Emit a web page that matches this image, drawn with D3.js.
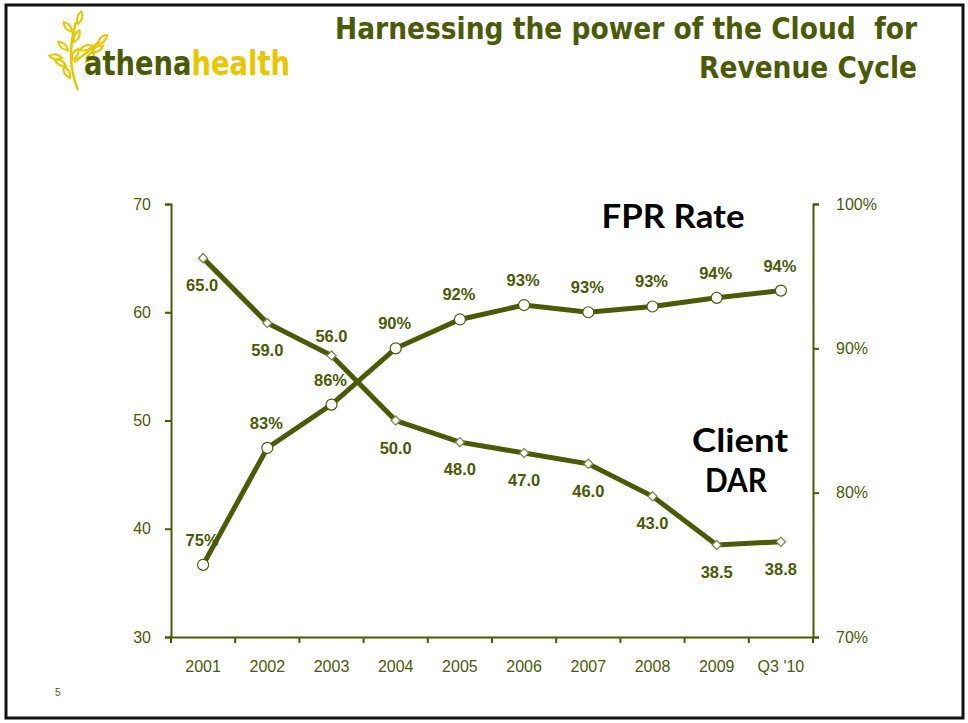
<!DOCTYPE html>
<meta charset="utf-8">
<style>
body { margin: 0; background: #fff; }
.tick text { font-family: "Liberation Sans", Arial, sans-serif; font-size: 16px; fill: #4b5a06; }
.axis path, .axis line { stroke: #4b5a06; stroke-width: 2px; }
.lbl { font-family: "Liberation Sans", Arial, sans-serif; font-size: 16.5px; font-weight: bold; fill: #4b5a06; text-anchor: middle; }
.big { font-family: Lato, "Open Sans", sans-serif; font-size: 33px; font-weight: bold; fill: #000; text-anchor: middle; }
.title { font-family: "DejaVu Sans Condensed", "DejaVu Sans", sans-serif; font-size: 30px; font-weight: bold; fill: #4b5a06; text-anchor: end; white-space: pre; }
</style>
<body>
<script src="https://cdn.jsdelivr.net/npm/d3@7"></script>
<script>

// data
var years = ["2001", "2002", "2003", "2004", "2005", "2006", "2007", "2008", "2009", "Q3 '10"];
var dar = [65.0, 59.0, 56.0, 50.0, 48.0, 47.0, 46.0, 43.0, 38.5, 38.8];
var fpr = [0.75, 0.831, 0.861, 0.90, 0.92, 0.93, 0.925, 0.929, 0.935, 0.94];
var darTicks = [30, 40, 50, 60, 70];
var fprTicks = [0.70, 0.80, 0.90, 1.00];

var W = 968, H = 723;
var plotL = 171, plotR = 813, plotT = 204, plotB = 637;

var svg = d3.select("body").append("svg")
    .attr("width", W)
    .attr("height", H);

// slide frame
svg.append("rect")
    .attr("x", 6).attr("y", 5)
    .attr("width", 957).attr("height", 713)
    .attr("fill", "none")
    .attr("stroke", "#111")
    .attr("stroke-width", 3);

// scales
var x = d3.scaleBand().domain(years).range([plotL, plotR]);
var y = d3.scaleLinear().domain([30, 70]).range([plotB, plotT]);
var y2 = d3.scaleLinear().domain([0.70, 1.00]).range([plotB, plotT]);

// axes
svg.append("g")
    .attr("class", "axis")
    .attr("transform", "translate(" + plotL + ",0)")
    .call(d3.axisLeft(y).tickValues(darTicks).tickSize(6).tickPadding(14).tickSizeOuter(6));

svg.append("g")
    .attr("class", "axis")
    .attr("transform", "translate(" + plotR + ",0)")
    .call(d3.axisRight(y2).tickValues(fprTicks).tickSize(6).tickPadding(17).tickSizeOuter(6)
      .tickFormat(d3.format(".0%")));

var xa = svg.append("g")
    .attr("class", "axis")
    .attr("transform", "translate(0," + plotB + ")")
    .call(d3.axisBottom(x).tickSize(0).tickPadding(24));

// tick marks at category boundaries
xa.selectAll(".bound")
  .data(years.concat(["end"]))
  .enter().append("line")
    .attr("class", "bound")
    .attr("x1", function(d, i) { return plotL + i * x.step(); })
    .attr("x2", function(d, i) { return plotL + i * x.step(); })
    .attr("y1", 0).attr("y2", 6);

var cx = function(i) { return x(years[i]) + x.bandwidth() / 2; };

// Client DAR line
var darLine = d3.line()
    .x(function(d, i) { return cx(i); })
    .y(function(d) { return y(d); });

svg.append("path")
    .attr("d", darLine(dar))
    .attr("fill", "none")
    .attr("stroke", "#4b5a06")
    .attr("stroke-width", 5);

svg.selectAll(".dmark")
  .data(dar)
  .enter().append("path")
    .attr("class", "dmark")
    .attr("d", d3.symbol().type(d3.symbolSquare).size(42))
    .attr("transform", function(d, i) { return "translate(" + cx(i) + "," + y(d) + ") rotate(45)"; })
    .attr("fill", "#fff")
    .attr("stroke", "#7d8a4c")
    .attr("stroke-width", 1.3);

svg.selectAll(".dlbl")
  .data(dar)
  .enter().append("text")
    .attr("class", "lbl")
    .attr("x", function(d, i) { return cx(i) - (i == 0 ? 1 : 0); })
    .attr("y", function(d, i) { return y(d) + (i == 2 ? -14 : 33); })
    .text(function(d) { return d3.format(".1f")(d); });

// FPR line
var fprLine = d3.line()
    .x(function(d, i) { return cx(i); })
    .y(function(d) { return y2(d); });

svg.append("path")
    .attr("d", fprLine(fpr))
    .attr("fill", "none")
    .attr("stroke", "#4b5a06")
    .attr("stroke-width", 5);

svg.selectAll(".fmark")
  .data(fpr)
  .enter().append("circle")
    .attr("class", "fmark")
    .attr("cx", function(d, i) { return cx(i); })
    .attr("cy", function(d) { return y2(d); })
    .attr("r", 5.5)
    .attr("fill", "#fff")
    .attr("stroke", "#4b5a06")
    .attr("stroke-width", 1.2);

svg.selectAll(".flbl")
  .data(fpr)
  .enter().append("text")
    .attr("class", "lbl")
    .attr("x", function(d, i) { return cx(i) - 1; })
    .attr("y", function(d) { return y2(d) - 19; })
    .text(function(d) { return d3.format(".0%")(d); });

// series captions
svg.append("text").attr("class", "big").attr("x", 673).attr("y", 228)
    .attr("textLength", 143).attr("lengthAdjust", "spacingAndGlyphs").text("FPR Rate");
svg.append("text").attr("class", "big").attr("x", 740).attr("y", 452)
    .attr("textLength", 96).attr("lengthAdjust", "spacingAndGlyphs").text("Client");
svg.append("text").attr("class", "big").attr("x", 736).attr("y", 492)
    .attr("textLength", 62).attr("lengthAdjust", "spacingAndGlyphs").text("DAR");

// title
svg.append("text").attr("class", "title").attr("x", 917).attr("y", 39)
    .attr("textLength", 582).attr("lengthAdjust", "spacingAndGlyphs")
    .text("Harnessing the power of the Cloud\u00a0 for");
svg.append("text").attr("class", "title").attr("x", 917).attr("y", 78)
    .attr("textLength", 218).attr("lengthAdjust", "spacingAndGlyphs")
    .text("Revenue Cycle");

// logo
var logo = svg.append("g");
var leaf = "M0,0 C3,-4 3,-9 0,-13 C-3,-9 -3,-4 0,0 Z";
var leaves = [[70, 78, -30], [66, 66, -60], [72, 60, 30], [68, 50, -50], [74, 42, 25], [72, 32, -40], [78, 24, 15], [86, 62, 40], [92, 52, 60], [98, 44, 45], [62, 58, -80], [80, 50, 70]];
logo.append("path")
    .attr("d", "M78,90 C70,70 68,50 76,22 M74,62 C82,56 92,50 100,40")
    .attr("fill", "none").attr("stroke", "#e8c700").attr("stroke-width", 2.5);
logo.selectAll(".leaf").data(leaves).enter().append("path")
    .attr("d", leaf)
    .attr("transform", function(d) { return "translate(" + d[0] + "," + d[1] + ") rotate(" + d[2] + ")"; })
    .attr("fill", "#fff").attr("stroke", "#e8c700").attr("stroke-width", 2);
var lt = logo.append("text")
    .attr("x", 84).attr("y", 75)
    .style("font-family", "'DejaVu Sans Condensed', sans-serif")
    .style("font-size", "33px").style("font-weight", "bold")
    .attr("textLength", 206).attr("lengthAdjust", "spacingAndGlyphs");
lt.append("tspan").attr("fill", "#4b5a06").text("athena");
lt.append("tspan").attr("fill", "#e8c700").text("health");

// page number
svg.append("text").attr("x", 55).attr("y", 696)
    .style("font-family", "'Liberation Sans', sans-serif")
    .style("font-size", "10px").attr("fill", "#4b5a06").text("5");

</script>
</body>
